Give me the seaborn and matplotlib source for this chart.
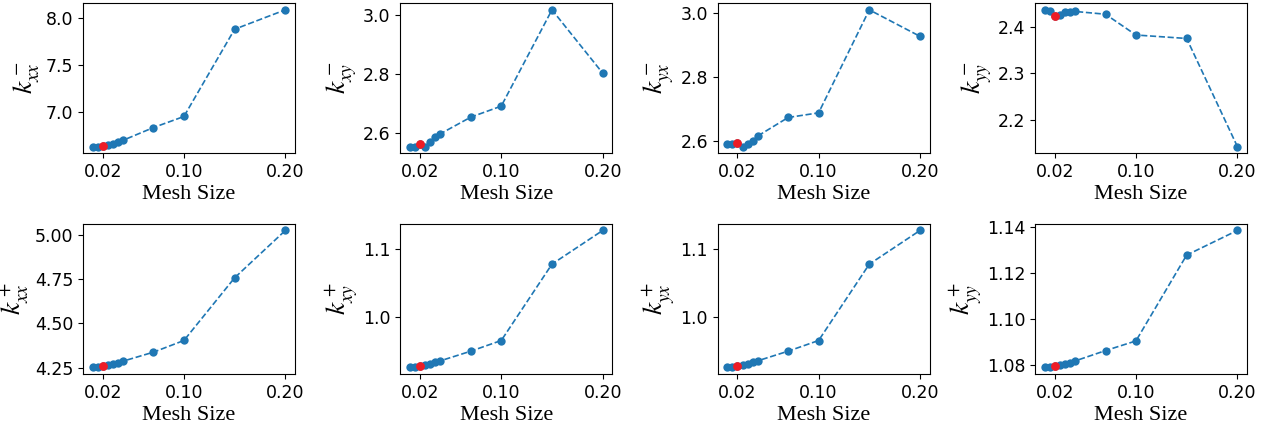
import numpy as np
import pandas as pd
import matplotlib
matplotlib.use("Agg")
import matplotlib.pyplot as plt
from matplotlib.ticker import MultipleLocator
import seaborn as sns

mesh_size = [0.01, 0.015, 0.02, 0.025, 0.03, 0.035, 0.04, 0.07, 0.10, 0.15, 0.20]
selected_mesh = 0.02

k_xx_minus = [6.629, 6.629, 6.639, 6.650, 6.661, 6.682, 6.696, 6.832, 6.950, 7.882, 8.089]
k_xy_minus = [2.556, 2.556, 2.566, 2.556, 2.570, 2.588, 2.599, 2.655, 2.692, 3.016, 2.803]
k_yx_minus = [2.589, 2.589, 2.593, 2.582, 2.591, 2.599, 2.615, 2.673, 2.6875, 3.010, 2.927]
k_yy_minus = [2.4375, 2.434, 2.424, 2.427, 2.4325, 2.432, 2.434, 2.428, 2.383, 2.3755, 2.1415]
k_xx_plus = [4.252, 4.254, 4.259, 4.265, 4.271, 4.278, 4.286, 4.337, 4.403, 4.758, 5.026]
k_xy_plus = [0.9273, 0.9278, 0.9293, 0.9307, 0.9322, 0.9346, 0.9366, 0.9507, 0.9663, 1.078, 1.1273]
k_yx_plus = [0.9272, 0.9277, 0.9292, 0.9306, 0.9321, 0.9345, 0.9365, 0.9506, 0.9662, 1.0779, 1.1272]
k_yy_plus = [1.0790, 1.0791, 1.0794, 1.0800, 1.0804, 1.0810, 1.0817, 1.0862, 1.0904, 1.1277, 1.1384]

ylabels = [r"$k_{xx}^-$", r"$k_{xy}^-$", r"$k_{yx}^-$", r"$k_{yy}^-$",
           r"$k_{xx}^+$", r"$k_{xy}^+$", r"$k_{yx}^+$", r"$k_{yy}^+$"]
series = [k_xx_minus, k_xy_minus, k_yx_minus, k_yy_minus,
          k_xx_plus, k_xy_plus, k_yx_plus, k_yy_plus]
ytick_steps = [0.5, 0.2, 0.2, 0.1, 0.25, 0.1, 0.1, 0.02]
xtick_vals = [0.02, 0.10, 0.20]
xtick_labels = ["0.02", "0.10", "0.20"]

plt.rcParams["mathtext.fontset"] = "stix"

fig, axes = plt.subplots(2, 4, figsize=(12.73, 4.29), dpi=100)
fig.subplots_adjust(left=83/1273, right=1247/1273, top=1-3/429, bottom=1-374/429,
                    wspace=0.497, hspace=0.467)

for ax, ys, lab, step in zip(axes.flat, series, ylabels, ytick_steps):
    df = pd.DataFrame({"mesh": mesh_size, "k": ys})
    sns.lineplot(data=df, x="mesh", y="k", ax=ax, color="#1f77b4", linestyle="--",
                 linewidth=1.2, marker="o", markersize=6, markeredgewidth=0,
                 sort=False)
    sel = df[np.isclose(df["mesh"], selected_mesh)]
    sns.scatterplot(data=sel, x="mesh", y="k", ax=ax, color="#ee1c25", s=40,
                    linewidth=0, zorder=5)
    ax.set_xticks(xtick_vals)
    ax.set_xticklabels(xtick_labels)
    ax.yaxis.set_major_locator(MultipleLocator(step))
    ax.tick_params(labelsize=12.5)
    ax.set_xlabel("Mesh Size", fontsize=16, family="Liberation Serif", labelpad=3)
    ax.set_ylabel(lab, fontsize=20, labelpad=3)

fig.savefig("out.png", dpi=100)
